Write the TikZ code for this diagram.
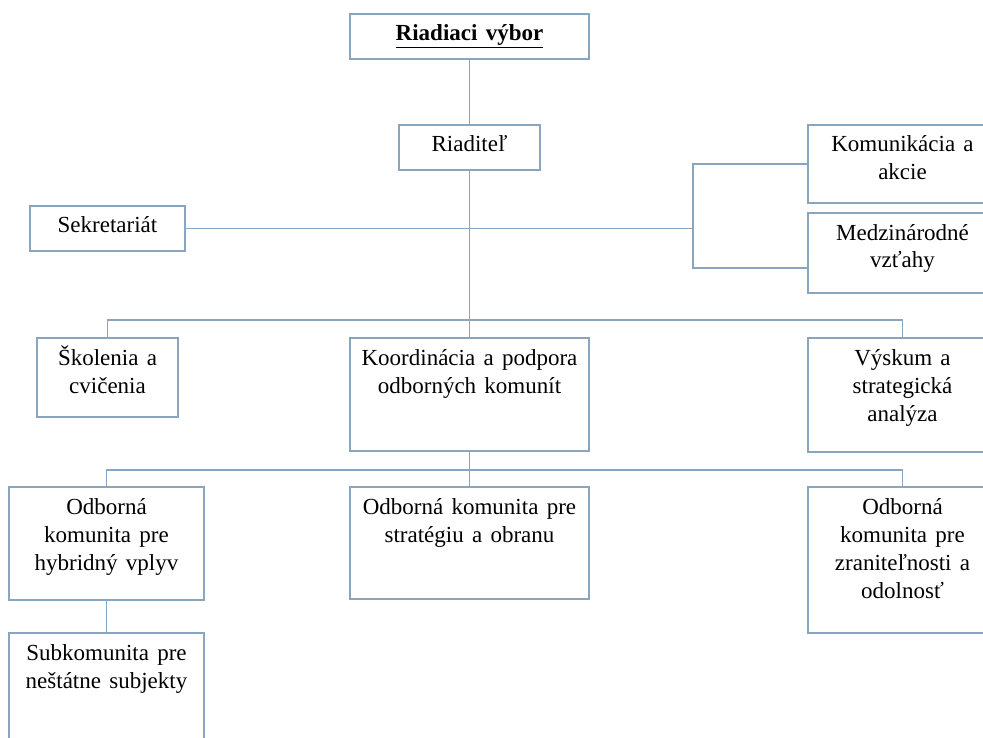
\documentclass[tikz,border=0pt]{standalone}
\usepackage{fontspec}
\setmainfont{Liberation Serif}
\usetikzlibrary{calc}
\definecolor{lineblue}{RGB}{138,165,190}
\newcommand{\bxt}[3]{\parbox[c][#2][t]{#1}{\centering\spaceskip=0.36em plus 0.1em\relax\rule{0pt}{27pt}#3}}
\tikzset{
  orgbox/.style={draw=lineblue, line width=1.6pt, fill=white, inner sep=0pt, outer sep=0pt, anchor=north west, font=\fontsize{23}{28}\selectfont},
  conn/.style={draw=lineblue, line width=1.6pt}
}
\begin{document}
\begin{tikzpicture}[x=1pt,y=-1pt]
\useasboundingbox (0,0) rectangle (983,738);
\fill[white] (0,0) rectangle (983,738);
\clip (0,0) rectangle (983,738);
% nodes
\node[orgbox] (rv)  at (350,14)  {\bxt{239pt}{45pt}{\underline{\textbf{Riadiaci výbor}}}};
\node[orgbox] (ria) at (399,125) {\bxt{141pt}{45pt}{Riaditeľ}};
\node[orgbox] (sek) at (30,206)  {\bxt{155pt}{45pt}{Sekretariát}};
\node[orgbox] (kom) at (808,125) {\bxt{189pt}{78pt}{Komunikácia a\\akcie}};
\node[orgbox] (med) at (808,213) {\bxt{189pt}{80pt}{Medzinárodné\\vzťahy}};
\node[orgbox] (sko) at (37,338)  {\bxt{141pt}{79pt}{Školenia a\\cvičenia}};
\node[orgbox] (koo) at (350,338) {\bxt{239pt}{113pt}{Koordinácia a podpora\\odborných komunít}};
\node[orgbox] (vys) at (808,338) {\bxt{189pt}{114pt}{Výskum a\\strategická\\analýza}};
\node[orgbox] (ohv) at (9,487)   {\bxt{195pt}{113pt}{Odborná\\komunita pre\\hybridný vplyv}};
\node[orgbox] (osa) at (350,487) {\bxt{239pt}{112pt}{Odborná komunita pre\\stratégiu a obranu}};
\node[orgbox] (ozr) at (808,487) {\bxt{189pt}{146pt}{Odborná\\komunita pre\\zraniteľnosti a\\odolnosť}};
\node[orgbox] (sub) at (9,633)   {\bxt{195pt}{130pt}{Subkomunita pre\\neštátne subjekty}};
% junctions
\coordinate (b1) at (ria.south |- 0,320);
\coordinate (b2) at (koo.south |- 0,470);
\coordinate (jK) at (693,227);
\coordinate (mwl) at ($(med.west)+(0,15)$);
% connectors
\draw[conn] (rv.south) -- (ria.north);
\draw[conn] (ria.south) -- (b1);
\draw[conn] (sek.east) -- (sek.east -| jK);
\draw[conn] (kom.west) -- (kom.west -| jK) -- (jK |- mwl) -- (mwl);
\draw[conn] (sko.north) |- (b1) -| (vys.north);
\draw[conn] (b1) -- (koo.north);
\draw[conn] (koo.south) -- (b2);
\draw[conn] (ohv.north) |- (b2) -| (ozr.north);
\draw[conn] (b2) -- (osa.north);
\draw[conn] (ohv.south) -- (sub.north);
\end{tikzpicture}
\end{document}
